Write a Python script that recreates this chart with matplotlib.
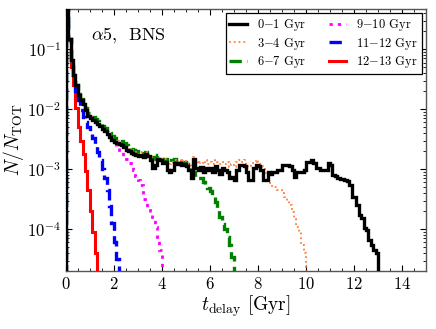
import numpy as np
import matplotlib
matplotlib.use("Agg")
import matplotlib.pyplot as plt
from matplotlib.ticker import MultipleLocator, LogLocator, NullFormatter

plt.rcParams["font.family"] = "serif"
plt.rcParams["font.serif"] = ["cmr10"]
plt.rcParams["mathtext.fontset"] = "cm"
plt.rcParams["axes.unicode_minus"] = False
plt.rcParams["axes.formatter.use_mathtext"] = True

bin_width = 0.1  # Gyr

# N/N_TOT per 0.1 Gyr bin
vals_0_1 = [0.9, 0.15, 0.066, 0.037, 0.025, 0.017, 0.014, 0.012, 0.0096, 0.0077,
            0.0071, 0.0066, 0.0061, 0.0056, 0.0052, 0.0046, 0.0043, 0.0038, 0.0034, 0.0031,
            0.0028, 0.0027, 0.0026, 0.0025, 0.0023, 0.0021, 0.0020, 0.00185, 0.0018, 0.0017,
            0.00165, 0.0017, 0.0016, 0.0018, 0.00165, 0.0014, 0.00104, 0.00117, 0.0015, 0.0014,
            0.00126, 0.00131, 0.00096, 0.00089, 0.00096, 0.00126, 0.00121, 0.00126, 0.00117, 0.00121,
            0.00112, 0.00096, 0.00071, 0.0015, 0.00104, 0.00096, 0.00108, 0.00089, 0.00104, 0.00096,
            0.00104, 0.00089, 0.00112, 0.00096, 0.00083, 0.00104, 0.00096, 0.00089, 0.00071, 0.00074,
            0.00066, 0.00096, 0.00117, 0.00117, 0.00112, 0.00089, 0.00066, 0.00066, 0.00104, 0.00117,
            0.00112, 0.00096, 0.00066, 0.00066, 0.00089, 0.00083, 0.00089, 0.00089, 0.00096, 0.00096,
            0.00117, 0.00117, 0.00117, 0.00112, 0.00096, 0.00074, 0.00089, 0.00089, 0.00089, 0.00096,
            0.00131, 0.00131, 0.00141, 0.00126, 0.00104, 0.00104, 0.00096, 0.00096, 0.00096, 0.00126,
            0.00117, 0.00079, 0.00076, 0.00071, 0.00068, 0.00068, 0.00066, 0.00063, 0.00054, 0.00034,
            0.00034, 0.00025, 0.00017, 0.000152, 0.000104, 9.6e-5, 6.6e-5, 5.4e-5, 4.5e-5, 4.0e-5]

vals_3_4 = [0.9, 0.15, 0.066, 0.037, 0.025, 0.017, 0.014, 0.012, 0.0098, 0.0079,
            0.0073, 0.0068, 0.0063, 0.0058, 0.0054, 0.0049, 0.0045, 0.0041, 0.0037, 0.0034,
            0.0031, 0.0030, 0.0028, 0.0027, 0.0025, 0.0023, 0.0022, 0.0021, 0.0020, 0.0019,
            0.0018, 0.0019, 0.0018, 0.0019, 0.0017, 0.0016, 0.0014, 0.0015, 0.0016, 0.0015,
            0.0014, 0.0015, 0.0013, 0.0012, 0.0013, 0.0014, 0.0013, 0.0014, 0.0013, 0.0014,
            0.0013, 0.0012, 0.0011, 0.0016, 0.0013, 0.0012, 0.0013, 0.0012, 0.0014, 0.0012,
            0.0013, 0.0012, 0.0014, 0.0013, 0.0012, 0.0013, 0.0012, 0.0013, 0.0011, 0.0012,
            0.0011, 0.0013, 0.0014, 0.0013, 0.0014, 0.0012, 0.0011, 0.0012, 0.0013, 0.0014,
            0.0013, 0.0012, 0.0011, 0.00085, 0.00062, 0.00058, 0.0005, 0.0005, 0.00045, 0.00045,
            0.00040, 0.00035, 0.00030, 0.00025, 0.00019, 0.00015, 0.00011, 9e-5, 5.5e-5, 4.0e-5]

vals_6_7 = [0.9, 0.15, 0.066, 0.037, 0.025, 0.018, 0.015, 0.0125, 0.0105, 0.0088,
            0.0080, 0.0074, 0.0068, 0.0063, 0.0058, 0.0053, 0.0049, 0.0044, 0.0040, 0.0036,
            0.0033, 0.0031, 0.0030, 0.0029, 0.0027, 0.0025, 0.0024, 0.0022, 0.0021, 0.0020,
            0.0019, 0.0020, 0.0018, 0.0019, 0.0017, 0.0016, 0.0015, 0.0016, 0.0017, 0.0015,
            0.0014, 0.0015, 0.0013, 0.0013, 0.0014, 0.0015, 0.0013, 0.0014, 0.0013, 0.0013,
            0.0012, 0.0011, 0.00095, 0.0009, 0.00075, 0.00072, 0.00070, 0.00062, 0.00055, 0.00048,
            0.00044, 0.00036, 0.00028, 0.00021, 0.00016, 0.00012, 0.0001, 7.5e-5, 5.5e-5, 3.5e-5]

vals_9_10 = [0.9, 0.15, 0.066, 0.037, 0.025, 0.018, 0.015, 0.0125, 0.010, 0.0082,
             0.0075, 0.0069, 0.0063, 0.0058, 0.0053, 0.0048, 0.0044, 0.0039, 0.0035, 0.0031,
             0.0027, 0.0024, 0.0021, 0.0019, 0.00165, 0.00145, 0.00126, 0.00108, 0.00096, 0.00076,
             0.00066, 0.00054, 0.00032, 0.00027, 0.00023, 0.00019, 0.00014, 0.00011, 7.4e-5, 4.5e-5]

vals_11_12 = [0.9, 0.15, 0.066, 0.037, 0.020, 0.0145, 0.0096, 0.0074, 0.0061, 0.0050,
              0.0040, 0.0033, 0.0025, 0.0019, 0.0014, 0.00100, 0.00072, 0.00045, 0.00024, 0.000125,
              6e-5, 3.2e-5]

vals_12_13 = [0.9, 0.14, 0.05, 0.025, 0.0105, 0.0050, 0.0030, 0.0018, 0.00095, 0.00045,
              0.00020, 9e-5, 4e-5]

labels = ["0-1", "3-4", "6-7", "9-10", "11-12", "12-13"]
series = [vals_0_1, vals_3_4, vals_6_7, vals_9_10, vals_11_12, vals_12_13]
colors = ["black", "#ff7f3f", "green", "magenta", "blue", "red"]
styles = ["-", ":", "--", (0, (1.2, 1.8)), "--", "-"]
widths = [2.4, 1.3, 2.4, 2.0, 2.4, 2.2]

fig = plt.figure(figsize=(4.36, 3.29), dpi=100)
ax = fig.add_axes([0.151, 0.176, 0.826, 0.797])

for i in range(len(series)):
    v = series[i]
    edges = np.arange(len(v) + 1) * bin_width
    lo, hi = labels[i].split("-")
    ax.stairs(v, edges, baseline=1e-7, color=colors[i], linestyle=styles[i],
              linewidth=widths[i], zorder=10 - i,
              label=r"$%s{-}%s$ Gyr" % (lo, hi))

ax.set_yscale("log")
ax.set_xlim(0, 15)
ax.set_ylim(2e-5, 0.47)
ax.xaxis.set_major_locator(MultipleLocator(2))
ax.xaxis.set_minor_locator(MultipleLocator(0.5))
ax.yaxis.set_major_locator(LogLocator(base=10, numticks=10))
ax.yaxis.set_minor_locator(LogLocator(base=10, subs=np.arange(2, 10), numticks=20))
ax.yaxis.set_minor_formatter(NullFormatter())
ax.tick_params(which="both", direction="in", top=True, right=True, labelsize=12)
ax.tick_params(which="major", length=4, width=0.8)
ax.tick_params(which="minor", length=2, width=0.6)
for s in ax.spines.values():
    s.set_linewidth(1.0)
    s.set_color("#555555")

ax.set_xlabel(r"$t_{\rm delay}$ [Gyr]", fontsize=14, labelpad=1)
ax.set_ylabel(r"$N/N_{\rm TOT}$", fontsize=14, labelpad=1)
ax.text(0.07, 0.9, r"$\alpha5$,  BNS", transform=ax.transAxes, fontsize=13,
        va="center")

leg = ax.legend(loc="upper right", ncol=2, fontsize=9, fancybox=False,
                edgecolor="black", framealpha=1, handlelength=1.4,
                handletextpad=0.8, columnspacing=1.8, borderaxespad=0.35,
                labelspacing=0.2, borderpad=0.3)
leg.get_frame().set_linewidth(0.9)

fig.savefig("out.png", dpi=100)
